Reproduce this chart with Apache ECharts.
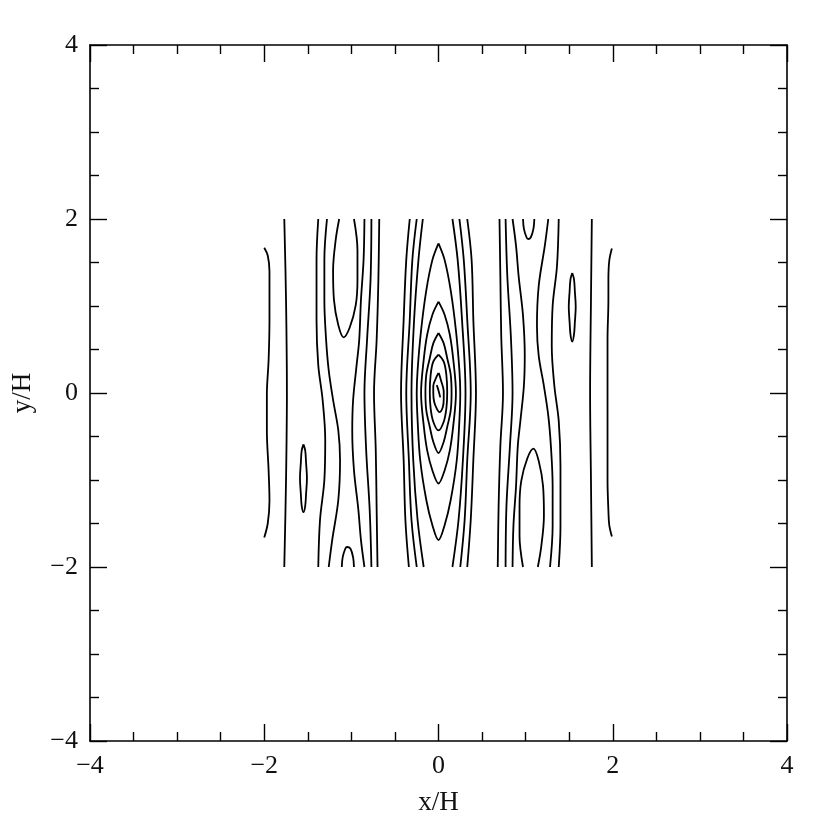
<!DOCTYPE html>
<html><head><meta charset="utf-8">
<script src="https://cdn.jsdelivr.net/npm/echarts@6/dist/echarts.min.js"></script>
<style>html,body{margin:0;padding:0;background:#fff}#c{width:830px;height:830px}</style>
</head><body><div id="c"></div>
<script>
// Axis ticks
const xTicks = [-4, -2, 0, 2, 4];
const yTicks = [-4, -2, 0, 2, 4];

// Contour lines, [x/H, y/H] points
const wiggleLeft = [[-2.00,1.67],[-1.96,1.58],[-1.94,1.40],[-1.94,1.10],[-1.94,0.84],[-1.95,0.38],[-1.97,-0.02],[-1.97,-0.43],[-1.95,-0.89],[-1.94,-1.24],[-1.96,-1.50],[-2.00,-1.66]];
const wiggleRight = [[1.99,1.66],[1.96,1.52],[1.95,1.30],[1.95,1.07],[1.94,0.61],[1.94,-0.08],[1.94,-0.46],[1.94,-1.00],[1.95,-1.35],[1.96,-1.52],[1.99,-1.65]];
const outerLeft = [[-1.77,2],[-1.75,1.07],[-1.74,0],[-1.75,-1.0],[-1.77,-2]];
const outerRight = [[1.76,2],[1.75,1.07],[1.74,0],[1.75,-1.0],[1.76,-2]];
const islandLeft = [[-1.55,-0.59],[-1.53,-0.66],[-1.52,-0.80],[-1.51,-0.98],[-1.52,-1.16],[-1.53,-1.30],[-1.55,-1.37],[-1.57,-1.30],[-1.58,-1.16],[-1.59,-0.98],[-1.58,-0.80],[-1.57,-0.66],[-1.55,-0.59]];
const islandRight = [[1.535,1.38],[1.555,1.31],[1.565,1.17],[1.575,0.99],[1.565,0.81],[1.555,0.67],[1.535,0.59],[1.515,0.67],[1.505,0.81],[1.495,0.99],[1.505,1.17],[1.515,1.31],[1.535,1.38]];

const leftL1 = [[-1.38,2],[-1.40,1.53],[-1.40,0.84],[-1.38,0.32],[-1.33,-0.08],[-1.30,-0.54],[-1.31,-1.0],[-1.36,-1.46],[-1.38,-2]];
const leftL2 = [[-1.28,2],[-1.31,1.53],[-1.31,1.07],[-1.29,0.61],[-1.26,0.26],[-1.21,-0.08],[-1.15,-0.43],[-1.13,-0.77],[-1.15,-1.23],[-1.22,-1.69],[-1.26,-2]];
const leftLoop = [[-1.14,2],[-1.18,1.76],[-1.21,1.41],[-1.20,1.07],[-1.15,0.78],[-1.09,0.64],[-1.02,0.75],[-0.95,1.01],[-0.93,1.30],[-0.93,1.64],[-0.97,2]];
const leftL3 = [[-0.85,2],[-0.86,1.53],[-0.89,1.07],[-0.91,0.61],[-0.94,0.32],[-0.98,-0.08],[-0.99,-0.43],[-0.97,-0.89],[-0.92,-1.34],[-0.89,-1.69],[-0.85,-2]];
const leftCap = [[-1.11,-2],[-1.10,-1.89],[-1.07,-1.79],[-1.05,-1.77],[-1.01,-1.79],[-0.98,-1.89],[-0.97,-2]];
const leftL4 = [[-0.77,2],[-0.78,1.30],[-0.82,0.61],[-0.85,0],[-0.83,-0.66],[-0.79,-1.34],[-0.77,-2]];
const leftL5 = [[-0.68,2],[-0.69,1.30],[-0.71,0.61],[-0.74,0],[-0.72,-0.66],[-0.71,-1.34],[-0.70,-2]];

const rightL1 = [[1.38,-2],[1.40,-1.53],[1.40,-0.84],[1.38,-0.32],[1.33,0.08],[1.30,0.54],[1.31,1.0],[1.36,1.46],[1.38,2]];
const rightL2 = [[1.28,-2],[1.31,-1.53],[1.31,-1.07],[1.29,-0.61],[1.26,-0.26],[1.21,0.08],[1.15,0.43],[1.13,0.77],[1.15,1.23],[1.22,1.69],[1.26,2]];
const rightLoop = [[1.14,-2],[1.18,-1.76],[1.21,-1.41],[1.20,-1.07],[1.15,-0.78],[1.09,-0.64],[1.02,-0.75],[0.95,-1.01],[0.93,-1.30],[0.93,-1.64],[0.97,-2]];
const rightL3 = [[0.85,-2],[0.86,-1.53],[0.89,-1.07],[0.91,-0.61],[0.94,-0.32],[0.98,0.08],[0.99,0.43],[0.97,0.89],[0.92,1.34],[0.89,1.69],[0.85,2]];
const rightCap = [[0.97,2],[0.98,1.89],[1.01,1.79],[1.03,1.77],[1.06,1.79],[1.09,1.89],[1.10,2]];
const rightL4 = [[0.77,-2],[0.78,-1.30],[0.82,-0.61],[0.85,0],[0.83,0.66],[0.79,1.34],[0.77,2]];
const rightL5 = [[0.68,-2],[0.69,-1.30],[0.71,-0.61],[0.74,0],[0.72,0.66],[0.71,1.34],[0.70,2]];

const centerL6 = [[-0.33,2],[-0.37,1.53],[-0.40,0.84],[-0.43,0],[-0.40,-0.77],[-0.38,-1.46],[-0.34,-2]];
const centerL7 = [[-0.25,2],[-0.30,1.53],[-0.33,0.84],[-0.37,0],[-0.34,-0.77],[-0.31,-1.46],[-0.25,-2]];
const centerL8 = [[-0.18,2],[-0.23,1.53],[-0.28,0.84],[-0.31,0],[-0.29,-0.77],[-0.24,-1.46],[-0.17,-2]];
const centerR6 = [[0.33,2],[0.38,1.53],[0.40,0.84],[0.43,0],[0.40,-0.77],[0.37,-1.46],[0.33,-2]];
const centerR7 = [[0.24,2],[0.29,1.53],[0.33,0.84],[0.37,0],[0.33,-0.77],[0.30,-1.46],[0.25,-2]];
const centerR8 = [[0.16,2],[0.22,1.53],[0.27,0.84],[0.31,0],[0.28,-0.77],[0.23,-1.46],[0.16,-2]];

const ring5 = [[0,1.72],[-0.07,1.53],[-0.14,1.18],[-0.20,0.72],[-0.24,0.26],[-0.25,0],[-0.24,-0.31],[-0.21,-0.77],[-0.14,-1.23],[-0.07,-1.52],[0,-1.69],[0.07,-1.52],[0.14,-1.23],[0.21,-0.77],[0.24,-0.31],[0.25,0],[0.24,0.26],[0.20,0.72],[0.14,1.18],[0.07,1.53],[0,1.72]];
const ring4 = [[0,1.05],[-0.07,0.90],[-0.13,0.67],[-0.17,0.38],[-0.20,0],[-0.17,-0.37],[-0.13,-0.66],[-0.07,-0.89],[0,-1.04],[0.07,-0.89],[0.13,-0.66],[0.17,-0.37],[0.20,0],[0.17,0.38],[0.13,0.67],[0.07,0.90],[0,1.05]];
const ring3 = [[0,0.69],[-0.06,0.57],[-0.10,0.40],[-0.14,0.21],[-0.15,0],[-0.14,-0.20],[-0.10,-0.39],[-0.06,-0.56],[0,-0.69],[0.06,-0.56],[0.10,-0.39],[0.14,-0.20],[0.15,0],[0.14,0.21],[0.10,0.40],[0.06,0.57],[0,0.69]];
const ring2 = [[0,0.44],[-0.06,0.36],[-0.09,0.21],[-0.10,0.01],[-0.09,-0.18],[-0.06,-0.33],[0,-0.43],[0.06,-0.33],[0.09,-0.18],[0.10,0.01],[0.09,0.21],[0.06,0.36],[0,0.44]];
const ring1 = [[0,0.23],[-0.03,0.17],[-0.06,0.08],[-0.06,0],[-0.05,-0.10],[-0.02,-0.18],[0.01,-0.22],[0.05,-0.16],[0.06,-0.07],[0.06,0.02],[0.03,0.14],[0.01,0.21],[0,0.23]];
const centerDash = [[-0.02,0.09],[0,0.03],[0.02,-0.05]];

const contours = [wiggleLeft, wiggleRight, outerLeft, outerRight, islandLeft, islandRight,
  leftL1, leftL2, leftLoop, leftL3, leftCap, leftL4, leftL5,
  rightL1, rightL2, rightLoop, rightL3, rightCap, rightL4, rightL5,
  centerL6, centerL7, centerL8, centerR6, centerR7, centerR8,
  ring5, ring4, ring3, ring2, ring1, centerDash];

const FONT = 'Liberation Serif';
const axisCommon = (show) => ({
  type: 'value', min: -4, max: 4, interval: 2,
  axisLine: { show: true, onZero: false, lineStyle: { color: '#000', width: 1.6 } },
  axisTick: { show: true, inside: true, length: 17, lineStyle: { color: '#000', width: 1.4 } },
  minorTick: { show: true, splitNumber: 4, length: 9, lineStyle: { color: '#000', width: 1.4 } },
  splitLine: { show: false },
  axisLabel: { show: show, fontFamily: FONT, fontSize: 26, color: '#111',
    formatter: v => (v < 0 ? '\u2212' + Math.abs(v) : String(v)) }
});

const chart = echarts.init(document.getElementById('c'), null, { renderer: 'canvas' });
chart.setOption({
  backgroundColor: '#fff',
  animation: false,
  grid: { left: 90, right: 43, top: 45, bottom: 89, containLabel: false, outerBoundsMode: 'none' },
  xAxis: [
    Object.assign(axisCommon(true), { position: 'bottom', name: 'x/H', nameLocation: 'middle', nameGap: 48,
      nameTextStyle: { fontFamily: FONT, fontSize: 27, color: '#111' },
      axisLabel: Object.assign(axisCommon(true).axisLabel, { margin: 12 }) }),
    Object.assign(axisCommon(false), { position: 'top' })
  ],
  yAxis: [
    Object.assign(axisCommon(true), { position: 'left', name: 'y/H', nameLocation: 'middle', nameGap: 54, nameRotate: 90,
      nameTextStyle: { fontFamily: FONT, fontSize: 27, color: '#111' },
      axisLabel: Object.assign(axisCommon(true).axisLabel, { margin: 12 }) }),
    Object.assign(axisCommon(false), { position: 'right' })
  ],
  series: contours.map(d => ({
    type: 'line', data: d, xAxisIndex: 0, yAxisIndex: 0,
    showSymbol: false, smooth: 0.35, silent: true,
    lineStyle: { color: '#000', width: 1.8 }
  }))
});
</script></body></html>
